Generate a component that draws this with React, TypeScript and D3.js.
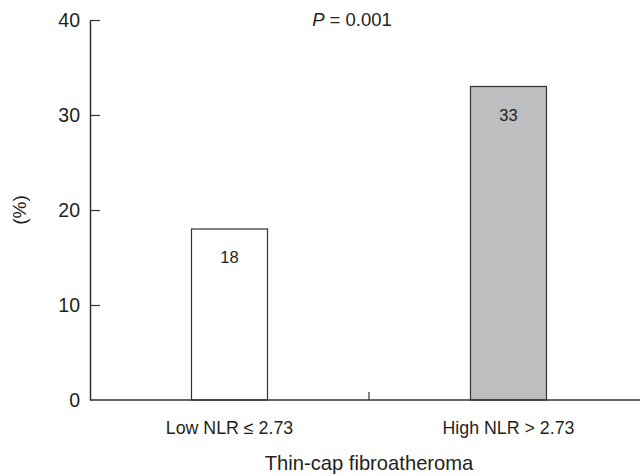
import React, { useRef, useEffect } from 'react';
import * as d3 from 'd3';

const categories = ['Low NLR ≤ 2.73', 'High NLR > 2.73'];
const values = [18, 33];
const barColors = ['#ffffff', '#bdbec0'];
const yTicks = [0, 10, 20, 30, 40];

const FONT = '"Liberation Sans", Arial, sans-serif';

const App = () => {
  const svgRef = useRef<SVGSVGElement>(null);

  useEffect(() => {
    if (!svgRef.current) return;
    const svg = d3.select(svgRef.current);
    svg.selectAll('*').remove();

    const left = 90, right = 648, top = 20, bottom = 400;

    const x = d3.scalePoint<string>()
      .domain(categories)
      .range([left, right])
      .padding(0.5);

    const y = d3.scaleLinear().domain([0, 40]).range([bottom, top]);
    const barW = 76;

    // y axis, ticks point inward
    const yAxis = svg.append('g')
      .attr('transform', `translate(${left},0)`)
      .call(d3.axisLeft(y).tickValues(yTicks).tickSizeInner(-10).tickSizeOuter(0).tickPadding(10));
    yAxis.select('.domain').attr('stroke', '#333').attr('stroke-width', 1.5);
    yAxis.selectAll('.tick line').attr('stroke', '#333').attr('stroke-width', 1.2);
    yAxis.selectAll('.tick text')
      .attr('fill', '#231f20')
      .attr('font-family', FONT)
      .attr('font-size', 19.5);
    yAxis.selectAll('.tick').filter((d: any) => d === 0).select('line').remove();

    // bars
    svg.selectAll('.bar')
      .data(values)
      .enter()
      .append('rect')
      .attr('x', (d, i) => (x(categories[i]) as number) - barW / 2)
      .attr('y', d => y(d))
      .attr('width', barW)
      .attr('height', d => bottom - y(d))
      .attr('fill', (d, i) => barColors[i])
      .attr('stroke', '#333')
      .attr('stroke-width', 1.2);

    // value labels inside bars
    svg.selectAll('.val')
      .data(values)
      .enter()
      .append('text')
      .attr('x', (d, i) => x(categories[i]) as number)
      .attr('y', d => y(d) + 34)
      .attr('text-anchor', 'middle')
      .attr('font-family', FONT)
      .attr('font-size', 16.5)
      .attr('fill', '#231f20')
      .text(d => d);

    // x axis
    svg.append('line')
      .attr('x1', left).attr('x2', right)
      .attr('y1', bottom).attr('y2', bottom)
      .attr('stroke', '#333').attr('stroke-width', 1.5);
    const mid = (left + right) / 2;
    svg.append('line')
      .attr('x1', mid).attr('x2', mid)
      .attr('y1', bottom).attr('y2', bottom - 8)
      .attr('stroke', '#333').attr('stroke-width', 1.2);

    svg.selectAll('.xlab')
      .data(categories)
      .enter()
      .append('text')
      .attr('x', d => x(d) as number)
      .attr('y', 434)
      .attr('text-anchor', 'middle')
      .attr('font-family', FONT)
      .attr('font-size', 17.8)
      .attr('fill', '#231f20')
      .text(d => d);

    svg.append('text')
      .attr('x', mid)
      .attr('y', 470)
      .attr('text-anchor', 'middle')
      .attr('font-family', FONT)
      .attr('font-size', 20.2)
      .attr('fill', '#231f20')
      .text('Thin-cap fibroatheroma');

    svg.append('text')
      .attr('transform', 'translate(26,210) rotate(-90)')
      .attr('text-anchor', 'middle')
      .attr('font-family', FONT)
      .attr('font-size', 19)
      .attr('fill', '#231f20')
      .text('(%)');

    // P value
    const p = svg.append('text')
      .attr('x', 352)
      .attr('y', 26)
      .attr('text-anchor', 'middle')
      .attr('font-family', FONT)
      .attr('font-size', 18.5)
      .attr('fill', '#231f20');
    p.append('tspan').attr('font-style', 'italic').text('P');
    p.append('tspan').text(' = 0.001');
  }, []);

  return (
    <svg
      ref={svgRef}
      width={640}
      height={476}
      style={{ position: 'absolute', left: 0, top: 0, background: '#fff' }}
    />
  );
};

export default App;
